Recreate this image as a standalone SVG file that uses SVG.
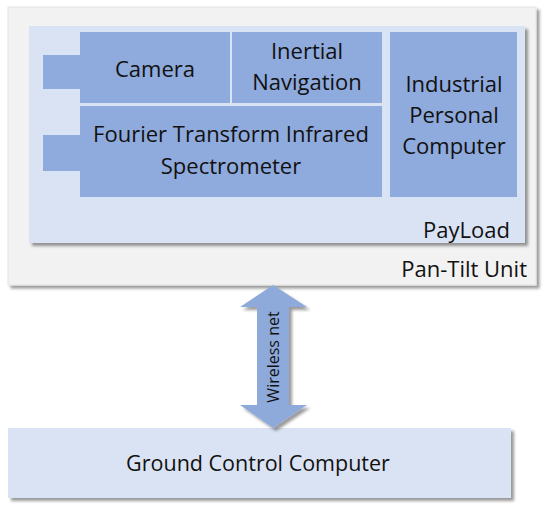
<svg xmlns="http://www.w3.org/2000/svg" width="550" height="507" viewBox="0 0 550 507">
<defs>
<filter id="sh" x="-5%" y="-5%" width="115%" height="115%">
<feGaussianBlur in="SourceAlpha" stdDeviation="1.5"/>
<feOffset dx="3" dy="3" result="b"/>
<feComponentTransfer><feFuncA type="linear" slope="0.4"/></feComponentTransfer>
<feMerge><feMergeNode/><feMergeNode in="SourceGraphic"/></feMerge>
</filter>
<style>
text{font-family:"Open Sans","Liberation Sans",sans-serif;fill:#111;font-size:22px}
.blk{fill:#8faadc}
.c{text-anchor:middle}
.r{text-anchor:end}
</style>
</defs>
<rect width="550" height="507" fill="#fff"/>
<g id="pan-tilt">
<rect x="8" y="7" width="528" height="278" fill="#f2f2f2" stroke="#e4e4e4" filter="url(#sh)"/>
<text class="r" x="527" y="277">Pan-Tilt Unit</text>
</g>
<g id="payload">
<rect x="29" y="26" width="496" height="217" fill="#dae3f3" filter="url(#sh)"/>
<text class="r" x="510" y="238">PayLoad</text>
</g>
<g id="port1"><rect class="blk" x="43" y="55" width="37" height="34"/></g>
<g id="port2"><rect class="blk" x="43" y="135" width="37" height="36"/></g>
<g id="camera">
<rect class="blk" x="80" y="32" width="150" height="71"/>
<text class="c" x="155" y="77">Camera</text>
</g>
<g id="inertial">
<rect class="blk" x="232" y="32" width="150" height="71"/>
<text class="c" x="307" y="59">Inertial</text>
<text class="c" x="307" y="90">Navigation</text>
</g>
<g id="ftir">
<rect class="blk" x="80" y="106" width="302" height="91"/>
<text class="c" x="231" y="142">Fourier Transform Infrared</text>
<text class="c" x="231" y="174">Spectrometer</text>
</g>
<g id="ipc">
<rect class="blk" x="390" y="32" width="127" height="165"/>
<text class="c" x="454" y="92">Industrial</text>
<text class="c" x="454" y="123">Personal</text>
<text class="c" x="454" y="154">Computer</text>
</g>
<g id="ground">
<rect x="8" y="428" width="503" height="70" fill="#dae3f3" filter="url(#sh)"/>
<text class="c" x="258" y="471" style="font-size:21.5px">Ground Control Computer</text>
</g>
<g id="connectors">
<polygon points="273,285 307,307 289,307 289,405 307,405 273,428 240,405 257,405 257,307 240,307" fill="#8eaadb" filter="url(#sh)"/>
<text class="c" transform="translate(279,357) rotate(-90)" style="font-size:16px">Wireless net</text>
</g>
</svg>
